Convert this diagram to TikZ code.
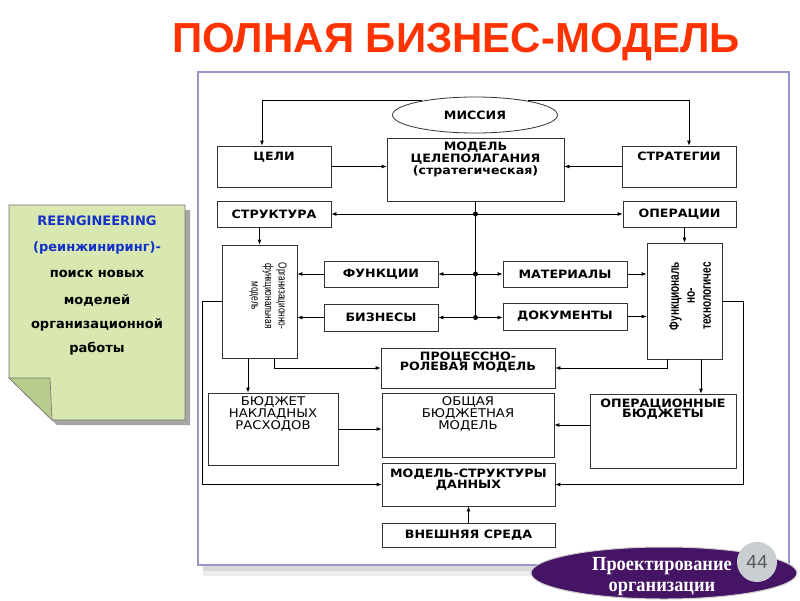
\documentclass[tikz,border=0pt]{standalone}
\usepackage{fontspec}
\setmainfont{DejaVu Sans}
\newfontfamily\titlefont{Liberation Sans}
\newfontfamily\labelfont[FakeStretch=1.1]{DejaVu Sans}
\newfontfamily\narrowfont[FakeStretch=0.72]{Liberation Sans}
\newfontfamily\badgefont[FakeStretch=0.92]{Liberation Serif}
\usetikzlibrary{shapes.geometric,arrows.meta,calc}

\definecolor{titlered}{RGB}{255,51,0}
\definecolor{framebl}{RGB}{150,150,205}
\definecolor{notegreen}{RGB}{216,232,176}
\definecolor{noteflap}{RGB}{184,204,140}
\definecolor{noteblue}{RGB}{20,50,200}
\definecolor{badgepurple}{RGB}{70,20,100}
\definecolor{badgegrey}{RGB}{200,206,210}

\begin{document}
\begin{tikzpicture}[x=1pt, y=-1pt,
    box/.style={draw=black!80, line width=0.8pt, inner sep=0pt},
    lbl/.style={font=\labelfont\bfseries\fontsize{11.5}{12.5}\selectfont, align=center, inner sep=0pt},
    thinlbl/.style={font=\labelfont\fontsize{12}{12}\selectfont, align=center, inner sep=0pt},
    notetxt/.style={font=\bfseries\fontsize{13}{15}\selectfont, inner sep=0pt},
    link/.style={line width=0.8pt},
    arr/.style={line width=0.8pt, -{Latex[length=5pt,width=4pt]}}]

    % Page size of the slide
    \useasboundingbox (0,0) rectangle (800,600);
    \fill[white] (0,0) rectangle (800,600);

    % Slide title
    \node[font=\titlefont\bfseries\fontsize{42}{44}\selectfont, text=titlered,
          anchor=base, inner sep=0pt] (title) at (456,52) {ПОЛНАЯ БИЗНЕС-МОДЕЛЬ};

    % Frame around the scheme, with its shadow
    \fill[black!15] (203,565) rectangle (793,571);
    \fill[black!7] (203,571) rectangle (793,576);
    \draw[framebl, line width=1.5pt, fill=white] (198,72) rectangle (789,565);

    % Top row: mission, goals, goal model, strategies
    \node[ellipse, draw=black!80, line width=0.8pt, minimum width=165pt, minimum height=36pt,
          font=\labelfont\bfseries\fontsize{11.5}{12.5}\selectfont] (missia) at (475,115) {МИССИЯ};
    \node[box, minimum width=114pt, minimum height=41pt] (celi) at (274,166.5) {};
    \node[lbl, anchor=north] (celi-t) at ([yshift=-6.5pt]celi.north) {ЦЕЛИ};
    \node[box, minimum width=177pt, minimum height=63pt] (celmod) at (475.5,169.5) {};
    \node[lbl, anchor=north] (celmod-t) at ([yshift=-4pt]celmod.north)
        {МОДЕЛЬ\\[-0.5pt]ЦЕЛЕПОЛАГАНИЯ\\[-0.5pt](стратегическая)};
    \node[box, minimum width=114pt, minimum height=41pt] (strat) at (679,166.5) {};
    \node[lbl, anchor=north] (strat-t) at ([yshift=-6.5pt]strat.north) {СТРАТЕГИИ};

    % Structure and operations
    \node[box, lbl, minimum width=114pt, minimum height=26pt] (struct) at (274,214) {СТРУКТУРА};
    \node[box, lbl, minimum width=113pt, minimum height=26pt] (oper) at (679.5,214) {ОПЕРАЦИИ};

    % Tall boxes with turned text
    \node[box, minimum width=75pt, minimum height=113pt] (orgfun) at (259.5,301.5) {};
    \node[font=\narrowfont\fontsize{11.5}{13.5}\selectfont, rotate=-90, align=center,
          inner sep=0pt] (orgfun-t) at (268,296) {Организационно-\\функциональная\\модель};
    \node[box, minimum width=75pt, minimum height=116pt] (funtech) at (684.5,301) {};
    \node[font=\narrowfont\bfseries\fontsize{14}{16}\selectfont, rotate=90, align=center,
          inner sep=0pt] (funtech-t) at (690,296) {Функциональ\\но-\\технологичес};

    % Middle boxes
    \node[box, lbl, minimum width=114pt, minimum height=26pt] (funk) at (381,274) {ФУНКЦИИ};
    \node[box, lbl, minimum width=114pt, minimum height=27pt] (biz) at (381,317.5) {БИЗНЕСЫ};
    \node[box, lbl, minimum width=124pt, minimum height=26pt] (mater) at (565,274) {МАТЕРИАЛЫ};
    \node[box, lbl, minimum width=124pt, minimum height=27pt] (docs) at (565,316.5) {ДОКУМЕНТЫ};

    % Process model
    \node[box, minimum width=174pt, minimum height=40pt] (procrol) at (468,368) {};
    \node[lbl, anchor=north] (procrol-t) at ([yshift=-4pt]procrol.north)
        {ПРОЦЕССНО-\\[-2pt]РОЛЕВАЯ МОДЕЛЬ};

    % Budget row
    \node[box, minimum width=130pt, minimum height=72pt] (budnak) at (273,429) {};
    \node[thinlbl, anchor=north] (budnak-t) at ([yshift=-4pt]budnak.north)
        {БЮДЖЕТ\\НАКЛАДНЫХ\\РАСХОДОВ};
    \node[box, minimum width=172pt, minimum height=64pt] (obsh) at (468,425) {};
    \node[thinlbl, anchor=north] (obsh-t) at ([yshift=-4pt]obsh.north)
        {ОБЩАЯ\\БЮДЖЕТНАЯ\\МОДЕЛЬ};
    \node[box, minimum width=146pt, minimum height=74pt] (operbud) at (663,431) {};
    \node[lbl, anchor=north] (operbud-t) at ([yshift=-5pt]operbud.north)
        {ОПЕРАЦИОННЫЕ\\[-2.5pt]БЮДЖЕТЫ};

    % Data model and environment
    \node[box, minimum width=173pt, minimum height=43pt] (modstr) at (468.5,484.5) {};
    \node[lbl, anchor=north] (modstr-t) at ([yshift=-6pt]modstr.north)
        {МОДЕЛЬ-СТРУКТУРЫ\\[-1.5pt]ДАННЫХ};
    \node[box, lbl, minimum width=173pt, minimum height=24pt] (vnesh) at (468.5,535) {ВНЕШНЯЯ СРЕДА};

    % Arrows from the mission
    \draw[arr] (missia.165) -| ([xshift=-12pt]celi.north);
    \draw[arr] (missia.15) -| ([xshift=10pt]strat.north);
    \draw[arr] (celi.east) -- (celi.east -| celmod.west);
    \draw[arr] (strat.west) -- (strat.west -| celmod.east);

    % Central bus with its junctions
    \coordinate (j1) at (celmod.south |- struct.east);
    \coordinate (j2) at (celmod.south |- funk.east);
    \coordinate (j3) at (celmod.south |- biz.east);
    \draw[link] (celmod.south) -- (j3);
    \draw[arr] (j1) -- (struct.east);
    \draw[arr] (j1) -- (oper.west);
    \draw[arr] (j2) -- (funk.east);
    \draw[arr] (j2) -- (mater.west);
    \draw[arr] (j3) -- (biz.east);
    \draw[arr] (j3) -- (j3 -| docs.west);
    \foreach \j in {j1,j2,j3}
        \fill (\j) circle (2.5);

    % Into the tall boxes
    \draw[arr] (orgfun.north |- struct.south) -- (orgfun.north);
    \draw[arr] (funtech.north |- oper.south) -- (funtech.north);
    \draw[arr] (funk.west) -- (funk.west -| orgfun.east);
    \draw[arr] (biz.west) -- (biz.west -| orgfun.east);
    \draw[arr] (mater.east) -- (mater.east -| funtech.west);
    \draw[arr] (docs.east) -- (docs.east -| funtech.west);

    % Out of the tall boxes
    \draw[arr] ([xshift=14.5pt]orgfun.south) |- (procrol.west);
    \draw[arr] ([xshift=-17.5pt]funtech.south) |- (procrol.east);
    \draw[arr] ([xshift=-11.5pt]orgfun.south) -- ([xshift=-11.5pt]orgfun.south |- budnak.north);
    \draw[arr] ([xshift=16.5pt]funtech.south) -- ([xshift=16.5pt]funtech.south |- operbud.north);

    % Budgets into the common model
    \draw[arr] (budnak.east) -- (budnak.east -| obsh.west);
    \draw[arr] (operbud.west |- obsh.east) -- (obsh.east);

    % Long lines into the data model
    \draw[arr] (orgfun.west) -- ++(-19,0) |- (modstr.west);
    \draw[arr] (funtech.east) -- ++(21,0) |- (modstr.east);
    \draw[arr] (vnesh.north) -- (modstr.south);

    % Note sheet on the left, with folded corner
    \fill[black!35] (14,210) -- (190,210) -- (190,425) -- (57,425) -- (14,383) -- cycle;
    \filldraw[fill=notegreen, draw=black!55, line width=0.6pt]
        (9,205) -- (185,205) -- (185,420) -- (52,420) -- (9,378) -- cycle;
    \filldraw[fill=noteflap, draw=black!55, line width=0.6pt]
        (9,378) -- (50,378) -- (52,420) -- cycle;
    \node[notetxt, text=noteblue] (note1) at (97,221) {REENGINEERING};
    \node[notetxt, text=noteblue] (note2) at (97,248) {(реинжиниринг)-};
    \node[notetxt] (note3) at (97,274) {поиск новых};
    \node[notetxt] (note4) at (97,300) {моделей};
    \node[notetxt] (note5) at (97,325) {организационной};
    \node[notetxt] (note6) at (97,349) {работы};

    % Badge in the lower right corner
    \filldraw[fill=badgepurple, draw=white!80!black, line width=1pt]
        (664,573) ellipse [x radius=133, y radius=26];
    \node[font=\badgefont\bfseries\fontsize{20}{21}\selectfont, text=white, align=center,
          inner sep=0pt] (badge-t) at (662,577) {Проектирование\\организации};
    \node[circle, fill=badgegrey, minimum size=40pt, inner sep=0pt,
          font=\titlefont\fontsize{19}{20}\selectfont, text=black!65] (pagenum) at (757,562) {44};

\end{tikzpicture}
\end{document}
